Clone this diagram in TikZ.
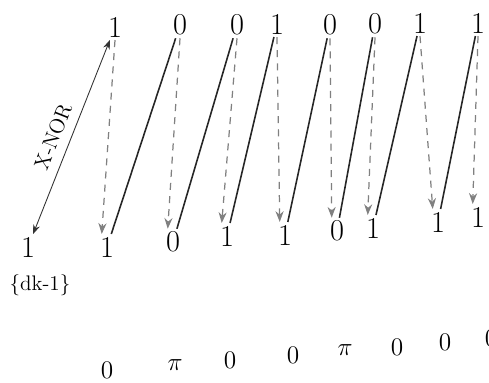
\documentclass[tikz,border=0pt]{standalone}
\usepackage{amsmath}
\usetikzlibrary{arrows.meta,positioning,calc}

\begin{document}
\begin{tikzpicture}[x=0.02cm,y=-0.02cm,>=Stealth,
  bit/.style={font=\LARGE,inner sep=1.5pt},
  phase/.style={font=\Large,inner sep=1pt},
  xnor/.style={<->,line width=.5pt,draw=black!80},
  link/.style={line width=.9pt,draw=black!85},
  feed/.style={->,line width=.7pt,draw=black!50,dash pattern=on 4pt off 3.5pt}]
\useasboundingbox (0,0) rectangle (489,382);
% message bits
\foreach \i/\x/\y/\b in {1/115/27/1,2/180/25/0,3/237/25/0,4/277/24/1,5/330/25/0,6/375/24/0,7/420/23/1,8/478/23/1}
  \node[bit] (t\i) at (\x,\y) {\b};
% encoded bits
\foreach \i/\x/\y/\b in {0/28/247/1,1/107/247/1,2/173/242/0,3/227/236/1,4/285/235/1,5/337/231/0,6/373/228/1,7/438/222/1,8/478/217/1}
  \node[bit] (d\i) at (\x,\y) {\b};
\node[font=\large] (init) at (40,285) {\{dk-1\}};
% phases
\foreach \i/\x/\y/\p in {1/107/370/0,2/175/365/\pi,3/230/360/0,4/293/355/0,5/345/350/\pi,6/397/347/0,7/445/342/0,8/491/338/0}
  \node[phase] (p\i) at (\x,\y) {$\p$};
\draw[xnor] (d0) -- node[sloped,above=2pt,pos=.47,font=\large] {X-NOR} (t1);
\foreach \i in {1,...,7}{
  \pgfmathtruncatemacro\j{\i+1}
  \draw[link] (d\i) -- (t\j);
}
\foreach \i in {1,...,8}
  \draw[feed] (t\i.south) -- ([xshift=-3pt]d\i.north);
\end{tikzpicture}
\end{document}
